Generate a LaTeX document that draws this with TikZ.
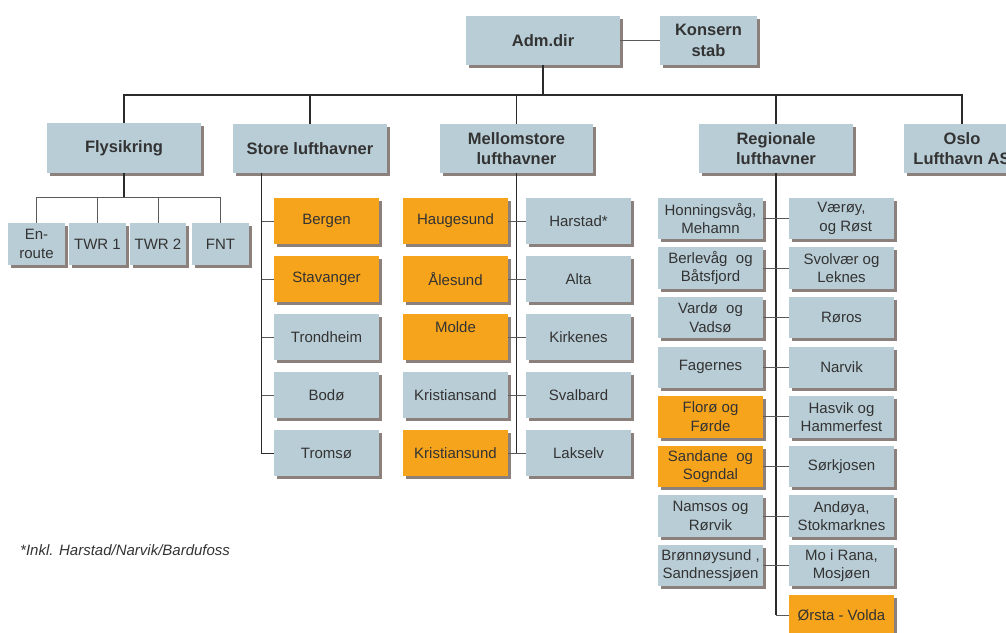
\documentclass[tikz,border=0pt]{standalone}
\usepackage{fontspec}
\setmainfont{Liberation Sans}
\usetikzlibrary{shadows}
\definecolor{boxblue}{HTML}{B9CDD6}
\definecolor{boxorange}{HTML}{F6A41C}
\definecolor{shadowc}{HTML}{8B807C}
\definecolor{txtc}{HTML}{333333}
\definecolor{linec}{HTML}{2B2B2B}
\definecolor{thinc}{HTML}{5A5A5A}
\begin{document}
\begin{tikzpicture}[x=1pt,y=-1pt,
  base/.style={draw=none, inner sep=0pt, align=center, text=txtc,
    drop shadow={shadow xshift=3pt, shadow yshift=-3pt, fill=shadowc, opacity=1}},
  topbox/.style={base, fill=boxblue, minimum width=154pt, minimum height=49pt,
    font=\fontsize{16.5}{20.5}\selectfont\bfseries},
  subbox/.style={base, fill=boxblue, minimum width=57pt, minimum height=42pt,
    font=\fontsize{15}{18.5}\selectfont},
  airbox/.style={base, fill=boxblue, minimum width=105pt, minimum height=46pt,
    font=\fontsize{15}{18.5}\selectfont},
  regbox/.style={base, fill=boxblue, minimum width=105pt, minimum height=41.5pt,
    font=\fontsize{15}{18.5}\selectfont},
  orange/.style={fill=boxorange},
  mainline/.style={draw=linec, line width=1.4pt},
  thickline/.style={draw=linec, line width=2pt},
  thinline/.style={draw=thinc, line width=1pt},
  txt/.style={inner sep=0pt, text=txtc, font=\fontsize{15}{18.5}\selectfont}
]
\useasboundingbox (0,0) rectangle (1006,632);
\clip (0,0) rectangle (1006,632);

% top level
\node[topbox] (adm) at (543,40.5) {Adm.dir};
\node[topbox, minimum width=97pt] (konsern) at (708.5,40.5) {Konsern\\stab};
\node[topbox, minimum height=50pt] (flys) at (124,148) {Flysikring};
\node[topbox] (store) at (310,148.5) {Store lufthavner};
\node[topbox, minimum width=153pt] (mello) at (516.5,148.5) {Mellomstore\\lufthavner};
\node[topbox] (region) at (776,148.5) {Regionale\\lufthavner};
\node[topbox, minimum width=116pt] (oslo) at (962,148.5) {Oslo\\Lufthavn AS};

% Flysikring
\node[subbox] (enroute) at (36.5,244) {En-\\route};
\node[subbox] (twr1) at (97.5,244) {TWR 1};
\node[subbox, minimum width=56pt] (twr2) at (158,244) {TWR 2};
\node[subbox] (fnt) at (220.5,244) {FNT};

% Store lufthavner
\node[airbox, orange] (bergen) at (326.5,221) {Bergen};
\node[airbox, orange] (stavanger) at (326.5,279) {Stavanger};
\node[airbox] (trondheim) at (326.5,337) {Trondheim};
\node[airbox] (bodo) at (326.5,395) {Bodø};
\node[airbox] (tromso) at (326.5,453) {Tromsø};

% Mellomstore
\node[airbox, orange] (haug) at (455.5,221) {Haugesund};
\node[airbox, orange] (alesund) at (455.5,279) {Ålesund};
\node[airbox, orange] (molde) at (455.5,337) {};
\node[txt] (moldetxt) at ([yshift=-13pt]molde.north) {Molde};
\node[airbox] (krsand) at (455.5,395) {Kristiansand};
\node[airbox, orange] (krsund) at (455.5,453) {Kristiansund};
\node[airbox] (harstad) at (578.5,221) {Harstad*};
\node[airbox] (alta) at (578.5,279) {Alta};
\node[airbox] (kirkenes) at (578.5,337) {Kirkenes};
\node[airbox] (svalbard) at (578.5,395) {Svalbard};
\node[airbox] (lakselv) at (578.5,453) {Lakselv};

% Regionale
\node[regbox] (honn) at (710.5,218.5) {Honningsvåg,\\Mehamn};
\node[regbox] (berl) at (710.5,268.1) {Berlevåg\ \ og\\Båtsfjord};
\node[regbox] (vardo) at (710.5,317.7) {Vardø\ \ og\\Vadsø};
\node[regbox] (fagernes) at (710.5,367.3) {Fagernes};
\node[regbox, orange] (floro) at (710.5,416.9) {Florø og\\Førde};
\node[regbox, orange] (sandane) at (710.5,466.5) {Sandane\ \ og\\Sogndal};
\node[regbox] (namsos) at (710.5,516.1) {Namsos og\\Rørvik};
\node[regbox] (bronn) at (710.5,565.7) {Brønnøysund ,\\Sandnessjøen};
\node[regbox] (varoy) at (841.5,218.5) {Værøy,\\\ \ og Røst};
\node[regbox] (svolvaer) at (841.5,268.1) {Svolvær og\\Leknes};
\node[regbox] (roros) at (841.5,317.7) {Røros};
\node[regbox] (narvik) at (841.5,367.3) {Narvik};
\node[regbox] (hasvik) at (841.5,416.9) {Hasvik og\\Hammerfest};
\node[regbox] (sorkjosen) at (841.5,466.5) {Sørkjosen};
\node[regbox] (andoya) at (841.5,516.1) {Andøya,\\Stokmarknes};
\node[regbox] (mo) at (841.5,565.7) {Mo i Rana,\\Mosjøen};
\node[regbox, orange] (orsta) at (841.5,615.3) {Ørsta - Volda};

% footnote
\node[txt, anchor=west, font=\fontsize{15}{18}\selectfont\itshape] (note) at (20,550) {*Inkl. Harstad/Narvik/Bardufoss};

% connectors
\coordinate (bus) at (0,95);
\coordinate (fbus) at (0,197);
\draw[thinline] (adm.east) -- (konsern.west);
\draw[thickline] (adm.south) -- (adm.south |- bus);
\draw[mainline] (flys.north) -- (flys.north |- bus) -- (oslo.north |- bus) -- (oslo.north);
\draw[mainline] (store.north) -- (store.north |- bus);
\draw[mainline] (mello.north) -- (mello.north |- bus);
\draw[mainline] (region.north) -- (region.north |- bus);

\draw[thickline] (flys.south) -- (flys.south |- fbus);
\draw[thinline] (enroute.north) -- (enroute.north |- fbus) -- (fnt.north |- fbus) -- (fnt.north);
\draw[thinline] (twr1.north) -- (twr1.north |- fbus);
\draw[thinline] (twr2.north) -- (twr2.north |- fbus);

\coordinate (stem) at ([xshift=29pt]store.south west);
\draw[thinline, draw=linec] (stem) |- (tromso.west);
\foreach \n in {bergen,stavanger,trondheim,bodo}
  \draw[thinline] (stem |- \n.west) -- (\n.west);

\draw[mainline] (mello.south) -- (mello.south |- lakselv.west);
\draw[thinline] (haug.east) -- (harstad.west);
\draw[thinline] (alesund.east) -- (alta.west);
\draw[thinline] (molde.east) -- (kirkenes.west);
\draw[thinline] (krsand.east) -- (svalbard.west);
\draw[thinline] (krsund.east) -- (lakselv.west);

\draw[thickline] (region.south) -- (region.south |- orsta.west);
\draw[thinline] (region.south |- orsta.west) -- (orsta.west);
\draw[thinline] (honn.east) -- (varoy.west);
\draw[thinline] (berl.east) -- (svolvaer.west);
\draw[thinline] (vardo.east) -- (roros.west);
\draw[thinline] (fagernes.east) -- (narvik.west);
\draw[thinline] (floro.east) -- (hasvik.west);
\draw[thinline] (sandane.east) -- (sorkjosen.west);
\draw[thinline] (namsos.east) -- (andoya.west);
\draw[thinline] (bronn.east) -- (mo.west);
\end{tikzpicture}
\end{document}
